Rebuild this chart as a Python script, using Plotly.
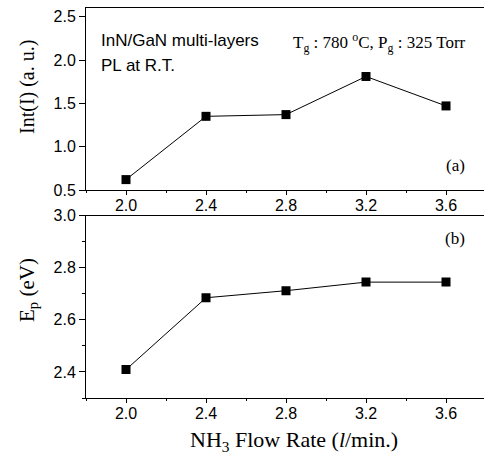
import plotly.graph_objects as go

flow_rate = [2.0, 2.4, 2.8, 3.2, 3.6]
intensity = [0.62, 1.35, 1.37, 1.81, 1.47]
peak_energy = [2.409, 2.685, 2.712, 2.745, 2.745]

x_ticks = [2.0, 2.4, 2.8, 3.2, 3.6]
x_ticklabels = ["2.0", "2.4", "2.8", "3.2", "3.6"]
y1_ticks = [0.5, 1.0, 1.5, 2.0, 2.5]
y1_ticklabels = ["0.5", "1.0", "1.5", "2.0", "2.5"]
y2_ticks = [2.4, 2.6, 2.8, 3.0]
y2_ticklabels = ["2.4", "2.6", "2.8", "3.0"]

W, H = 484, 459
ML, MR, MT, MB = 86, 0, 8, 61

fig = go.Figure()
fig.add_trace(go.Scatter(
    x=flow_rate, y=intensity, mode="lines+markers",
    line=dict(color="black", width=1),
    marker=dict(symbol="square", size=9, color="black"),
    xaxis="x", yaxis="y", showlegend=False))
fig.add_trace(go.Scatter(
    x=flow_rate, y=peak_energy, mode="lines+markers",
    line=dict(color="black", width=1),
    marker=dict(symbol="square", size=9, color="black"),
    xaxis="x2", yaxis="y2", showlegend=False))

tickfont = dict(family="Liberation Sans, Arial", size=16, color="black")
common = dict(showgrid=False, zeroline=False, showline=True, linecolor="black",
              linewidth=1, mirror=True, ticks="outside", tickwidth=1,
              tickcolor="black", tickfont=tickfont)
xcommon = dict(common, ticklen=4, ticklabelstandoff=-3)
ycommon = dict(common, ticklen=6)
minor_x = dict(dtick=0.2, ticks="outside", ticklen=2, tickcolor="black", showgrid=False)

ph = H - MT - MB
top_bottom = (H - MB - 190) / ph
bot_top = (H - MB - 215.7) / ph

fig.update_layout(
    width=W, height=H,
    margin=dict(l=ML, r=MR, t=MT, b=MB),
    plot_bgcolor="white", paper_bgcolor="white",
    xaxis=dict(domain=[0, 1], range=[1.8, 3.79], anchor="y",
               tickvals=x_ticks, ticktext=x_ticklabels, minor=minor_x, **xcommon),
    yaxis=dict(domain=[top_bottom, 1], range=[0.5, 2.6], anchor="x",
               tickvals=y1_ticks, ticktext=y1_ticklabels, **ycommon),
    xaxis2=dict(domain=[0, 1], range=[1.8, 3.79], anchor="y2",
                tickvals=x_ticks, ticktext=x_ticklabels, minor=minor_x, **xcommon),
    yaxis2=dict(domain=[0, bot_top], range=[2.3, 3.0], anchor="x2",
                tickvals=y2_ticks, ticktext=y2_ticklabels,
                minor=dict(dtick=0.1, ticks="outside", ticklen=3, tickcolor="black", showgrid=False),
                **ycommon),
)

def px(xp):
    return (xp - ML) / (W - ML - MR)

def py(yp):
    return (H - MB - yp) / ph

serif = "Liberation Serif, Times New Roman, serif"
sans = "Liberation Sans, Arial, sans-serif"

ann = [
    dict(text="InN/GaN multi-layers", x=px(99), y=py(40), xanchor="left", yanchor="middle",
         font=dict(family=sans, size=17, color="black")),
    dict(text="PL at R.T.", x=px(99), y=py(65), xanchor="left", yanchor="middle",
         font=dict(family=sans, size=17, color="black")),
    dict(text="T<sub>g</sub> : 780 <sup>o</sup>C, P<sub>g</sub> : 325 Torr", x=px(291), y=py(42),
         xanchor="left", yanchor="middle", font=dict(family=serif, size=17, color="black")),
    dict(text="(a)", x=px(455), y=py(165), xanchor="center", yanchor="middle",
         font=dict(family=serif, size=17, color="black")),
    dict(text="(b)", x=px(455), y=py(238), xanchor="center", yanchor="middle",
         font=dict(family=serif, size=17, color="black")),
    dict(text="Int(I) (a. u.)", x=px(28), y=py(87), xanchor="center", yanchor="middle",
         textangle=-90, font=dict(family=serif, size=20, color="black")),
    dict(text="E<sub>p</sub> (eV)", x=px(28), y=py(290), xanchor="center", yanchor="middle",
         textangle=-90, font=dict(family=serif, size=21, color="black")),
    dict(text="NH<sub>3</sub> Flow Rate (<i>l</i>/min.)", x=px(294), y=py(441),
         xanchor="center", yanchor="middle", font=dict(family=serif, size=22, color="black")),
]
for a in ann:
    a.update(xref="paper", yref="paper", showarrow=False)
fig.update_layout(annotations=ann)

fig.write_html("out.html", config={"displayModeBar": False},
               post_script="document.body.style.margin='0';")
